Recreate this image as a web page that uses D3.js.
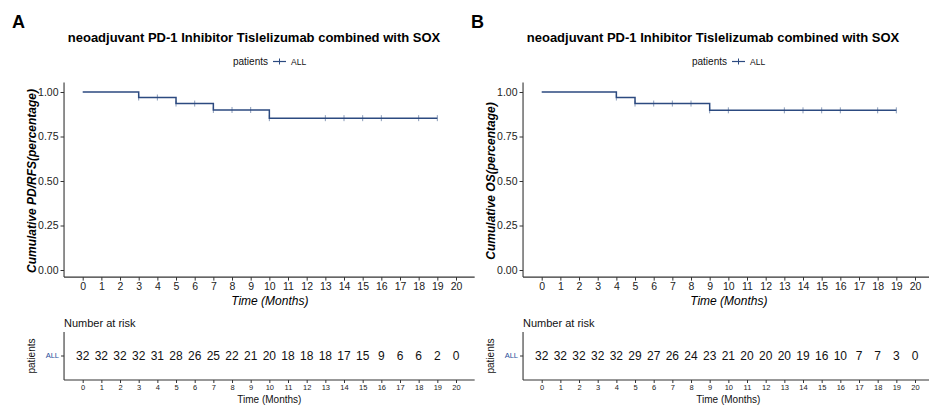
<!DOCTYPE html>
<html>
<head>
<meta charset="utf-8">
<script src="https://cdn.jsdelivr.net/npm/d3@7"></script>
<style>
  body { margin: 0; background: #fff; }
  svg { display: block; font-family: "Liberation Sans", Arial, sans-serif; }
</style>
</head>
<body>
<div id="chart"></div>
<script>
// data
const monthTicks = [0, 1, 2, 3, 4, 5, 6, 7, 8, 9, 10, 11, 12, 13, 14, 15, 16, 17, 18, 19, 20];
const survTicks = [0, 0.25, 0.5, 0.75, 1];

// panel A : PD/RFS
const stepTimesA = [0, 3, 5, 7, 10, 19];
const stepSurvA = [1, 0.969, 0.935, 0.899, 0.853, 0.853];
const censorA = [3, 4, 5, 6, 7, 8, 9, 10, 13, 14, 15, 16, 18, 19];
const riskA = [32, 32, 32, 32, 31, 28, 26, 25, 22, 21, 20, 18, 18, 18, 17, 15, 9, 6, 6, 2, 0];

// panel B : OS
const stepTimesB = [0, 4, 5, 9, 19];
const stepSurvB = [1, 0.969, 0.935, 0.897, 0.897];
const censorB = [4, 5, 6, 7, 8, 9, 10, 13, 14, 15, 16, 18, 19];
const riskB = [32, 32, 32, 32, 32, 29, 27, 26, 24, 23, 21, 20, 20, 20, 19, 16, 10, 7, 7, 3, 0];

const titleText = "neoadjuvant PD-1 Inhibitor Tislelizumab combined with SOX";
const lineColor = "#2c4a80";
const axisColor = "#333";

const W = 929, H = 406;
const svg = d3.select("#chart").append("svg")
  .attr("width", W)
  .attr("height", H);

function drawPanel(params) {
  const g = svg.append("g").attr("transform", `translate(${params.dx},0)`);

  // scales (ggplot-like expansion of one month / 0.05 around the data)
  const x = d3.scaleLinear().domain([0, 20]).range([82.7, 456]);
  const y = d3.scaleLinear().domain([0, 1]).range([270, 92]);
  const left = x(-1), right = x(21);

  // panel letter
  g.append("text")
    .attr("x", 12).attr("y", 28)
    .style("font-size", "18px").style("font-weight", "bold")
    .text(params.letter);

  // title
  g.append("text")
    .attr("x", 254).attr("y", 41.5)
    .attr("text-anchor", "middle")
    .style("font-size", "13px").style("font-weight", "bold")
    .text(titleText);

  // legend
  const leg = g.append("g").attr("transform", "translate(0,65)");
  leg.append("text").attr("x", 268).attr("text-anchor", "end")
    .style("font-size", "10px").attr("fill", "#111").text("patients");
  leg.append("line").attr("x1", 273).attr("x2", 286).attr("y1", -3.5).attr("y2", -3.5)
    .attr("stroke", lineColor).attr("stroke-width", 1.2);
  leg.append("line").attr("x1", 279.5).attr("x2", 279.5).attr("y1", -6.5).attr("y2", -0.5)
    .attr("stroke", lineColor).attr("stroke-width", 1);
  leg.append("text").attr("x", 291).style("font-size", "8.5px").attr("fill", "#111").text("ALL");

  // y axis
  const yAxis = d3.axisLeft(y).tickValues(survTicks).tickFormat(d3.format(".2f"))
    .tickSizeOuter(0).tickSize(3.5).tickPadding(2);
  const gy = g.append("g").attr("transform", `translate(${left},0)`).call(yAxis);
  gy.select(".domain").attr("d", `M0,${y(1.053)}V${y(-0.04)}`);

  // x axis
  const xAxis = d3.axisBottom(x).tickValues(monthTicks).tickSizeOuter(0).tickSize(3.5).tickPadding(2);
  const gx = g.append("g").attr("transform", `translate(0,${y(-0.04)})`).call(xAxis);
  gx.select(".domain").attr("d", `M${left},0H${right}`);

  [gx, gy].forEach(a => {
    a.selectAll(".domain").attr("stroke", axisColor).attr("stroke-width", 1.1);
    a.selectAll(".tick line").attr("stroke", axisColor);
    a.selectAll(".tick text").attr("fill", "#222").style("font-size", "10.5px")
      .style("font-family", "'Liberation Sans', Arial, sans-serif");
  });

  // axis titles
  g.append("text")
    .attr("transform", `translate(36,${(y(1) + y(0)) / 2}) rotate(-90)`)
    .attr("text-anchor", "middle")
    .style("font-size", "12px").style("font-weight", "bold").style("font-style", "italic")
    .text(params.yTitle);
  g.append("text")
    .attr("x", (x(0) + x(20)) / 2 + 0.5).attr("y", 304.5)
    .attr("text-anchor", "middle")
    .style("font-size", "12px").style("font-style", "italic")
    .text("Time (Months)");

  // survival curve
  const pts = params.times.map((t, i) => [t, params.surv[i]]);
  const line = d3.line().x(d => x(d[0])).y(d => y(d[1])).curve(d3.curveStepAfter);
  g.append("path").datum(pts)
    .attr("d", line)
    .attr("fill", "none")
    .attr("stroke", lineColor)
    .attr("stroke-width", 1.5);

  const survAt = t => {
    let v = params.surv[0];
    params.times.forEach((tt, i) => { if (tt <= t) v = params.surv[i]; });
    return v;
  };
  g.selectAll(".censor").data(params.censor).enter().append("line")
    .attr("class", "censor")
    .attr("x1", d => x(d)).attr("x2", d => x(d))
    .attr("y1", d => y(survAt(d)) - 3).attr("y2", d => y(survAt(d)) + 3)
    .attr("stroke", lineColor).attr("stroke-opacity", 0.55).attr("stroke-width", 1);

  // risk table
  const rowY = d3.scaleBand().domain(["ALL"]).range([332, 380]);
  g.append("text").attr("x", left).attr("y", 327)
    .style("font-size", "11px").attr("fill", "#111").text("Number at risk");

  const ty = d3.axisLeft(rowY).tickSizeOuter(0).tickSize(3).tickPadding(2);
  const gty = g.append("g").attr("transform", `translate(${left},0)`).call(ty);
  gty.select(".domain").attr("d", `M0,332V380`).attr("stroke", axisColor).attr("stroke-width", 1.1);
  gty.selectAll(".tick line").attr("stroke", axisColor);
  gty.selectAll(".tick text").attr("fill", "#1f4e9a").style("font-size", "7.5px")
    .style("font-family", "'Liberation Sans', Arial, sans-serif");

  const tx = d3.axisBottom(x).tickValues(monthTicks).tickSizeOuter(0).tickSize(3).tickPadding(2);
  const gtx = g.append("g").attr("transform", "translate(0,380)").call(tx);
  gtx.select(".domain").attr("d", `M${left},0H${right}`).attr("stroke", axisColor).attr("stroke-width", 1.1);
  gtx.selectAll(".tick line").attr("stroke", axisColor);
  gtx.selectAll(".tick text").attr("fill", "#222").style("font-size", "7.5px")
    .style("font-family", "'Liberation Sans', Arial, sans-serif");

  g.selectAll(".risk").data(params.risk).enter().append("text")
    .attr("class", "risk")
    .attr("x", (d, i) => x(monthTicks[i]))
    .attr("y", rowY("ALL") + rowY.bandwidth() / 2)
    .attr("dy", "0.36em")
    .attr("text-anchor", "middle")
    .style("font-size", "12px").attr("fill", "#111")
    .text(d => d);

  g.append("text")
    .attr("transform", `translate(35,${rowY("ALL") + rowY.bandwidth() / 2}) rotate(-90)`)
    .attr("text-anchor", "middle")
    .style("font-size", "10px").attr("fill", "#111")
    .text("patients");
  g.append("text")
    .attr("x", (x(0) + x(20)) / 2).attr("y", 402.5)
    .attr("text-anchor", "middle")
    .style("font-size", "10px").attr("fill", "#111")
    .text("Time (Months)");
}

drawPanel({dx: 0, letter: "A", yTitle: "Cumulative PD/RFS(percentage)",
  times: stepTimesA, surv: stepSurvA, censor: censorA, risk: riskA});
drawPanel({dx: 459, letter: "B", yTitle: "Cumulative OS(percentage)",
  times: stepTimesB, surv: stepSurvB, censor: censorB, risk: riskB});
</script>
</body>
</html>
